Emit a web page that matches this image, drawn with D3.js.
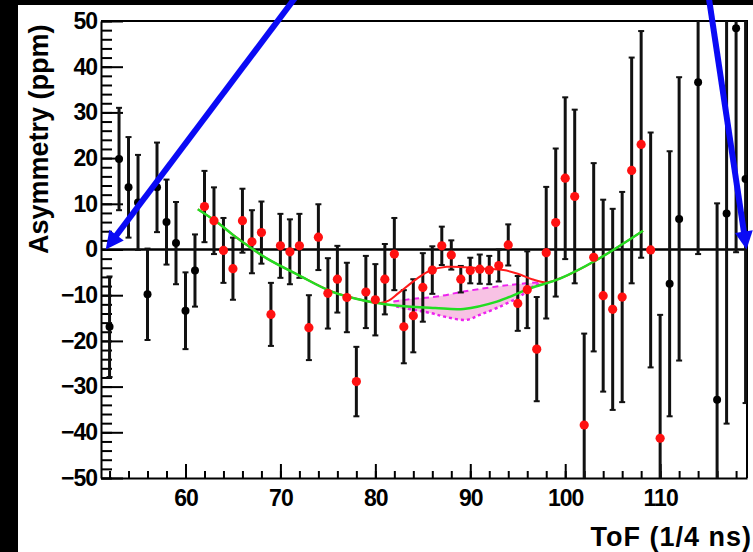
<!DOCTYPE html>
<html>
<head>
<meta charset="utf-8">
<script src="https://cdn.jsdelivr.net/npm/d3@7"></script>
<style>
  body { margin: 0; background: #fff; }
  svg { display: block; font-family: "Liberation Sans", Arial, Helvetica, sans-serif; }
</style>
</head>
<body>
<svg id="vis-svg"></svg>
<script>
// ToF bins, asymmetry (ppm) and errors
const tofBlueLeft = [52, 53, 54, 55, 56, 57, 58, 59, 60, 61];
const asymLeft    = [-16.9, 19.8, 13.6, 10.3, -9.8, 13.6, 6.0, 1.4, -13.4, -4.6];
const errLeft     = [11, 11.2, 11, 10.4, 10, 9.8, 9.3, 9, 8.4, 7.9];

const tofFit = [62, 63, 64, 65, 66, 67, 68, 69, 70, 71, 72, 73, 74, 75, 76, 77, 78, 79, 80, 81,
                82, 83, 84, 85, 86, 87, 88, 89, 90, 91, 92, 93, 94, 95, 96, 97, 98, 99, 100, 101,
                102, 103, 104, 105, 106, 107, 108, 109, 110];
const asymFit = [9.4, 6.3, -0.2, -4.2, 6.3, 1.7, 3.7, -14.2, 0.8, -0.5, 0.8, -17.1, 2.7, -9.6, -6.5, -10.5, -28.9, -9.3, -11.0, -6.5,
                 -1.0, -16.9, -14.5, -8.3, -4.5, 0.8, -1.2, -6.5, -4.6, -4.3, -4.5, -3.5, 1.0, -11.8, -8.8, -21.8, -0.7, 5.9, 15.6, 11.6,
                 -38.4, -1.7, -10.1, -13.1, -10.4, 17.3, 23.0, -0.1, -41.3];
const errFit  = [7.8, 7.3, 7.1, 6.8, 7.0, 6.9, 6.8, 6.9, 7.0, 7.1, 7.0, 7.1, 7.2, 7.7, 7.3, 7.6, 7.6, 7.9, 7.8, 7.7,
                 7.9, 8.0, 8.0, 7.5, 5.2, 4.2, 3.2, 2.9, 2.8, 3.2, 3.1, 3.5, 4.5, 6.0, 8.4, 11.4, 14.4, 16.2, 17.7, 19,
                 20, 20.6, 21, 22, 23, 24.7, 24.8, 25.7, 27];

const tofRight  = [111, 112, 114, 116, 117, 118, 119];
const asymRight = [-7.5, 6.7, 36.6, -32.9, 7.9, 48.4, 15.4];
const errRight  = [29, 31, 37.6, 43, 46, 49, 49];

// fit curves (tof, ppm)
const greenCurve = [[61.3, 8.8], [63.3, 6.0], [65, 3.2], [66.8, 0.5], [68.6, -2.0], [71.9, -5.6], [75.4, -9.2],
                    [78.9, -11.2], [82.4, -12.3], [86.3, -12.8], [89.3, -13.0], [92.8, -11.4], [96.3, -8.5],
                    [99.5, -6.3], [103.3, -2.3], [108.2, 4.1]];
const redCurve = [[61.3, 8.8], [63.3, 6.0], [65, 3.2], [66.8, 0.5], [68.6, -2.0], [71.9, -5.6], [75.4, -9.2],
                  [78.9, -11.2], [80.5, -11.7], [81.4, -11.2], [82.4, -9.6], [83.5, -7.8], [84.5, -6.2], [85.8, -4.6],
                  [87.5, -3.8], [89.5, -3.9], [91.5, -4.2], [93.5, -4.5], [95, -5.3], [96.5, -6.5], [98, -7.2],
                  [99.5, -6.3], [103.3, -2.3], [108.2, 4.1]];
const bandUpper = [[81.9, -11.4], [84, -10.8], [86.5, -10.3], [89.3, -9.2], [92.8, -8.1], [94.9, -7.6], [97.3, -7.2], [97.8, -7.3]];
const bandLower = [[82.2, -12.5], [85.8, -13.9], [87.5, -14.8], [89.6, -15.4], [91.0, -14.3], [92.8, -12.8], [95.2, -10.3], [96.6, -8.1], [97.8, -7.3]];

// annotation arrows (tof, ppm): start, tip
const arrows = [
    { from: [71.7, 55.5], to: [51.6, 0] },
    { from: [115.1, 55.5], to: [119.1, 0] }
];

const yTicks = [-50, -40, -30, -20, -10, 0, 10, 20, 30, 40, 50];
const xTicks = [60, 70, 80, 90, 100, 110];

let margin = { top: 21, right: 6, bottom: 74, left: 101 },
    width = 753 - margin.left - margin.right,
    height = 552 - margin.top - margin.bottom;

const root = d3.select("#vis-svg")
    .attr("width", 753)
    .attr("height", 552);

// black edges of the slide
root.append("rect").attr("x", 0).attr("y", 0).attr("width", 18).attr("height", 552).attr("fill", "#000");
root.append("rect").attr("x", 0).attr("y", 0).attr("width", 753).attr("height", 5).attr("fill", "#000");

const svg = root.append("g")
    .attr("transform", "translate(" + margin.left + "," + margin.top + ")");

const x = d3.scaleLinear().domain([51.1, 119.15]).range([0, width]),
    y = d3.scaleLinear().domain([-50, 50]).range([height, 0]);

svg.append("clipPath").attr("id", "plot-clip")
    .append("rect").attr("width", width).attr("height", height);

const axisFont = g => g.attr("font-family", "'Liberation Sans', Arial, sans-serif")
    .attr("font-size", 23).attr("font-weight", "bold");

// minor ticks
svg.append("g")
    .call(d3.axisLeft(y).tickValues(d3.range(-50, 51, 2)).tickSize(-11).tickSizeOuter(0).tickFormat(""))
    .call(g => g.select(".domain").remove())
    .selectAll("line").attr("stroke-width", 2);
svg.append("g")
    .attr("transform", "translate(0," + height + ")")
    .call(d3.axisBottom(x).tickValues(d3.range(52, 119, 2)).tickSize(-7).tickSizeOuter(0).tickFormat(""))
    .call(g => g.select(".domain").remove())
    .selectAll("line").attr("stroke-width", 2);

// major ticks + labels
svg.append("g")
    .call(d3.axisLeft(y).tickValues(yTicks).tickSize(-22).tickSizeOuter(0).tickPadding(4))
    .call(axisFont)
    .call(g => g.selectAll("line, .domain").attr("stroke-width", 2))
    .call(g => g.selectAll("text").attr("letter-spacing", -1));
svg.append("g")
    .attr("transform", "translate(0," + height + ")")
    .call(d3.axisBottom(x).tickValues(xTicks).tickSize(-14).tickSizeOuter(0).tickPadding(12))
    .call(axisFont)
    .call(g => g.selectAll("line, .domain").attr("stroke-width", 2))
    .call(g => g.selectAll("text").attr("letter-spacing", -1));

// frame top / right
svg.append("path")
    .attr("d", "M0,0H" + width + "V" + height)
    .attr("fill", "none").attr("stroke", "#000").attr("stroke-width", 2);

// zero line
svg.append("line")
    .attr("x1", 0).attr("x2", width)
    .attr("y1", y(0)).attr("y2", y(0))
    .attr("stroke", "#000").attr("stroke-width", 2.5);

const plot = svg.append("g").attr("clip-path", "url(#plot-clip)");

// shaded band between the two dashed curves
const bandPts = bandUpper.concat(bandLower.slice().reverse());
plot.append("path")
    .attr("d", d3.line().x(d => x(d[0])).y(d => y(d[1])).curve(d3.curveCatmullRomClosed)(bandPts))
    .attr("fill", "#f8c2e4");

const curveLine = d3.line().x(d => x(d[0])).y(d => y(d[1])).curve(d3.curveCatmullRom);

plot.append("path").attr("d", curveLine(bandUpper))
    .attr("fill", "none").attr("stroke", "#ee22ee").attr("stroke-width", 2).attr("stroke-dasharray", "6,4");
plot.append("path").attr("d", curveLine(bandLower))
    .attr("fill", "none").attr("stroke", "#ee22ee").attr("stroke-width", 2.5).attr("stroke-dasharray", "3,3");

// data
const pts = [];
tofBlueLeft.forEach((t, i) => pts.push({ t: t, a: asymLeft[i], e: errLeft[i], fit: false }));
tofFit.forEach((t, i) => pts.push({ t: t, a: asymFit[i], e: errFit[i], fit: true }));
tofRight.forEach((t, i) => pts.push({ t: t, a: asymRight[i], e: errRight[i], fit: false }));

// error bars
const bars = plot.selectAll(".err").data(pts).enter().append("g").attr("class", "err");
bars.append("line")
    .attr("x1", d => x(d.t)).attr("x2", d => x(d.t))
    .attr("y1", d => y(d.a + d.e)).attr("y2", d => y(d.a - d.e))
    .attr("stroke", "#111").attr("stroke-width", 3);
bars.append("line")
    .attr("x1", d => x(d.t) - 3).attr("x2", d => x(d.t) + 3)
    .attr("y1", d => y(d.a + d.e)).attr("y2", d => y(d.a + d.e))
    .attr("stroke", "#111").attr("stroke-width", 2);
bars.append("line")
    .attr("x1", d => x(d.t) - 3).attr("x2", d => x(d.t) + 3)
    .attr("y1", d => y(d.a - d.e)).attr("y2", d => y(d.a - d.e))
    .attr("stroke", "#111").attr("stroke-width", 2);

// fit curves
plot.append("path").attr("d", curveLine(redCurve))
    .attr("fill", "none").attr("stroke", "#ff1a1a").attr("stroke-width", 2);
plot.append("path").attr("d", curveLine(greenCurve))
    .attr("fill", "none").attr("stroke", "#22dd22").attr("stroke-width", 2.5);

// markers
plot.selectAll(".pt").data(pts).enter().append("circle")
    .attr("class", "pt")
    .attr("cx", d => x(d.t)).attr("cy", d => y(d.a))
    .attr("r", d => d.fit ? 4.6 : 4)
    .attr("fill", d => d.fit ? "#ff1111" : "#000");

// axis titles
root.append("text")
    .attr("transform", "translate(48," + (margin.top + y(0) / 2 + 4) + ") rotate(-90)")
    .attr("text-anchor", "middle")
    .attr("font-size", 27).attr("font-weight", "bold")
    .text("Asymmetry (ppm)");

root.append("text")
    .attr("x", 752).attr("y", 546)
    .attr("text-anchor", "end")
    .attr("font-size", 27).attr("font-weight", "bold")
    .attr("letter-spacing", 1)
    .text("ToF (1/4 ns)");

// blue arrows
const arrowG = svg.append("g");
arrows.forEach(a => {
    const x0 = x(a.from[0]), y0 = y(a.from[1]), x1 = x(a.to[0]), y1 = y(a.to[1]);
    const len = Math.hypot(x1 - x0, y1 - y0), ux = (x1 - x0) / len, uy = (y1 - y0) / len;
    const headL = 18, headW = 9;
    const bx = x1 - ux * headL, by = y1 - uy * headL;
    arrowG.append("line")
        .attr("x1", x0).attr("y1", y0).attr("x2", bx + ux * 2).attr("y2", by + uy * 2)
        .attr("stroke", "#0a0af5").attr("stroke-width", 6);
    arrowG.append("path")
        .attr("d", "M" + x1 + "," + y1 +
            "L" + (bx - uy * headW) + "," + (by + ux * headW) +
            "L" + (bx + uy * headW) + "," + (by - ux * headW) + "Z")
        .attr("fill", "#0a0af5");
});
</script>
</body>
</html>
